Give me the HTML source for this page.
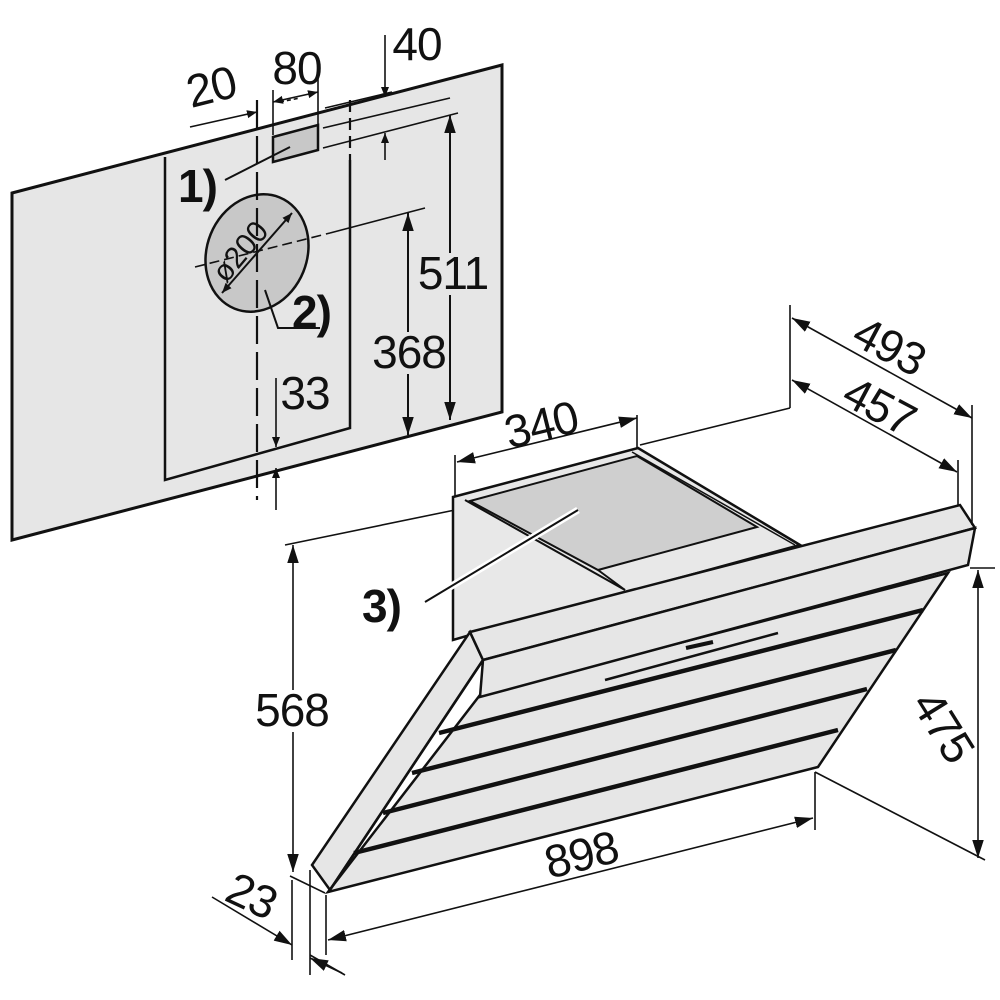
<!DOCTYPE html>
<html><head><meta charset="utf-8"><style>
html,body{margin:0;padding:0;background:#fff}
svg{display:block}
text{font-family:"Liberation Sans",sans-serif;fill:#111}
</style></head><body>
<svg width="1000" height="1000" viewBox="0 0 1000 1000" xmlns="http://www.w3.org/2000/svg">
<defs>
<marker id="a" viewBox="0 0 10 10" refX="10" refY="5" markerWidth="10" markerHeight="10" orient="auto-start-reverse" markerUnits="userSpaceOnUse"><path d="M0,1 L10,5 L0,9z" fill="#111"/></marker>
<marker id="b" viewBox="0 0 10 10" refX="10" refY="5" markerWidth="18" markerHeight="18" orient="auto-start-reverse" markerUnits="userSpaceOnUse"><path d="M0,1.8 L10,5 L0,8.2z" fill="#111"/></marker>
</defs>
<g stroke="#111" fill="none" stroke-width="1.6">
<polygon points="12,193 502,65 502,412 12,540" fill="#e6e6e6" stroke-width="3"/>
<polyline points="165,157 165,480 350,428 350,160" stroke-width="2.5"/>
<polygon points="273,137 318,125 318,150 273,162" fill="#c8c8c8" stroke-width="2.5"/>
<line x1="225" y1="180" x2="290" y2="147" stroke-width="2"/>
<ellipse cx="257" cy="253" rx="50" ry="60" transform="rotate(22 257 253)" fill="#c8c8c8" stroke-width="2.5"/>
<line x1="195" y1="267" x2="330" y2="233" stroke-dasharray="10,5"/>
<line x1="330" y1="233" x2="425" y2="208"/>
<line x1="222" y1="293" x2="292" y2="213" marker-start="url(#a)" marker-end="url(#a)" stroke-width="2"/>
<polyline points="265,290 278,328 320,328" stroke-width="2"/>
<line x1="257" y1="100" x2="257" y2="500" stroke-dasharray="28,8" stroke-width="2.2"/>
<line x1="350" y1="100" x2="350" y2="160" stroke-dasharray="12,6" stroke-width="2.2"/>
<line x1="273" y1="90" x2="273" y2="135"/>
<line x1="318" y1="77" x2="318" y2="125"/>
<line x1="190" y1="127" x2="257" y2="112" marker-end="url(#a)"/>
<line x1="273" y1="102" x2="318" y2="92" marker-start="url(#a)" marker-end="url(#a)"/>
<line x1="280" y1="102" x2="300" y2="98" stroke-dasharray="4,3"/>
<line x1="278" y1="123" x2="312" y2="115"/>
<line x1="325" y1="108" x2="392" y2="92"/>
<line x1="323" y1="148" x2="458" y2="113"/>
<line x1="323" y1="128" x2="450" y2="98"/>
<line x1="385" y1="35" x2="385" y2="97" marker-end="url(#a)"/>
<line x1="385" y1="160" x2="385" y2="133" marker-end="url(#a)"/>
<line x1="450" y1="115" x2="450" y2="420" marker-start="url(#b)" marker-end="url(#b)" stroke-width="2"/>
<line x1="408" y1="213" x2="408" y2="435" marker-start="url(#b)" marker-end="url(#b)" stroke-width="2"/>
<line x1="276" y1="378" x2="276" y2="447" marker-end="url(#a)"/>
<line x1="276" y1="510" x2="276" y2="468" marker-end="url(#a)"/>
<line x1="285" y1="545" x2="455" y2="510"/>
<line x1="640" y1="445" x2="790" y2="408"/>
<line x1="790" y1="305" x2="790" y2="408"/>
<line x1="455" y1="455" x2="455" y2="640"/>
<line x1="637" y1="415" x2="637" y2="448"/>
<line x1="457" y1="462" x2="637" y2="418" marker-start="url(#b)" marker-end="url(#b)"/>
<polygon points="453,497 638,448 800,545 470,635 453,640" fill="#e8e8e8" stroke-width="2.5"/>
<polygon points="470,501 637,456 757,527 598,570" fill="#cfcfcf" stroke-width="2"/>
<line x1="465" y1="500" x2="625" y2="590" stroke-width="2"/>
<line x1="632" y1="452" x2="795" y2="545" stroke-width="1.5"/>
<line x1="598" y1="570" x2="625" y2="590" stroke-width="2"/>
<polygon points="470,632 483,660 330,890 312,865" fill="#e6e6e6" stroke-width="2.5"/>
<polygon points="480,695 948,573 818,767 328,892" fill="#e6e6e6" stroke-width="2.5"/>
<line x1="483" y1="660" x2="330" y2="890" stroke-width="2.5"/>
<polygon points="470,632 960,505 975,528 483,660" fill="#e6e6e6" stroke-width="2.5"/>
<polygon points="483,660 975,528 968,565 480,697" fill="#e6e6e6" stroke-width="2.5"/>
<line x1="686" y1="648" x2="713" y2="642" stroke-width="4"/>
<line x1="605" y1="680" x2="778" y2="633" stroke-width="2.5"/>
<g stroke-width="4.5">
<line x1="439" y1="733" x2="923" y2="610"/>
<line x1="412" y1="773" x2="896" y2="650"/>
<line x1="383" y1="813" x2="867" y2="689"/>
<line x1="354" y1="853" x2="838" y2="730"/>
</g>
<line x1="425" y1="602" x2="578" y2="510" stroke="#fff" stroke-width="7"/>
<line x1="425" y1="602" x2="578" y2="510" stroke-width="2"/>
<line x1="972" y1="405" x2="972" y2="525"/>
<line x1="958" y1="460" x2="958" y2="505"/>
<line x1="792" y1="318" x2="972" y2="418" marker-start="url(#b)" marker-end="url(#b)"/>
<line x1="792" y1="380" x2="957" y2="472" marker-start="url(#b)" marker-end="url(#b)"/>
<line x1="970" y1="568" x2="995" y2="568"/>
<line x1="978" y1="570" x2="978" y2="858" marker-start="url(#b)" marker-end="url(#b)"/>
<line x1="815" y1="772" x2="985" y2="860"/>
<line x1="815" y1="772" x2="815" y2="830"/>
<line x1="328" y1="940" x2="813" y2="818" marker-start="url(#b)" marker-end="url(#b)"/>
<line x1="293" y1="545" x2="293" y2="872" marker-start="url(#b)" marker-end="url(#b)"/>
<line x1="290" y1="876" x2="325" y2="893"/>
<line x1="292" y1="880" x2="292" y2="960"/>
<line x1="310" y1="870" x2="310" y2="975"/>
<line x1="326" y1="895" x2="326" y2="955"/>
<line x1="212" y1="897" x2="292" y2="945" marker-end="url(#b)"/>
<line x1="310" y1="955" x2="345" y2="975"/>
<line x1="342" y1="973" x2="310" y2="958" marker-end="url(#b)"/>
</g>
<rect x="418" y="253" width="70" height="42" fill="#e6e6e6"/>
<rect x="374" y="332" width="70" height="42" fill="#e6e6e6"/>
<rect x="256" y="690" width="72" height="42" fill="#fff"/>
<g font-size="46" letter-spacing="-1">
<text x="215" y="102" text-anchor="middle" transform="rotate(-14 215 102)">20</text>
<text x="297" y="84" text-anchor="middle">80</text>
<text x="417" y="60" text-anchor="middle">40</text>
<text x="453" y="289" text-anchor="middle">511</text>
<text x="409" y="368" text-anchor="middle">368</text>
<text x="305" y="409" text-anchor="middle">33</text>
<text x="292" y="726" text-anchor="middle">568</text>
<text x="585" y="870" text-anchor="middle" transform="rotate(-14 585 870)">898</text>
<text x="545" y="440" text-anchor="middle" transform="rotate(-14 545 440)">340</text>
<text x="882" y="360" text-anchor="middle" transform="rotate(28 882 360)">493</text>
<text x="872" y="420" text-anchor="middle" transform="rotate(28 872 420)">457</text>
<text x="930" y="735" text-anchor="middle" transform="rotate(58 930 735)">475</text>
<text x="245" y="910" text-anchor="middle" transform="rotate(25 245 910)">23</text>
<text x="248" y="258" font-size="30" letter-spacing="0" text-anchor="middle" transform="rotate(-50 248 258)">ø200</text>
<text x="178" y="202" font-weight="bold">1)</text>
<text x="292" y="328" font-weight="bold">2)</text>
<text x="362" y="622" font-weight="bold">3)</text>
</g>
</svg>
</body></html>
